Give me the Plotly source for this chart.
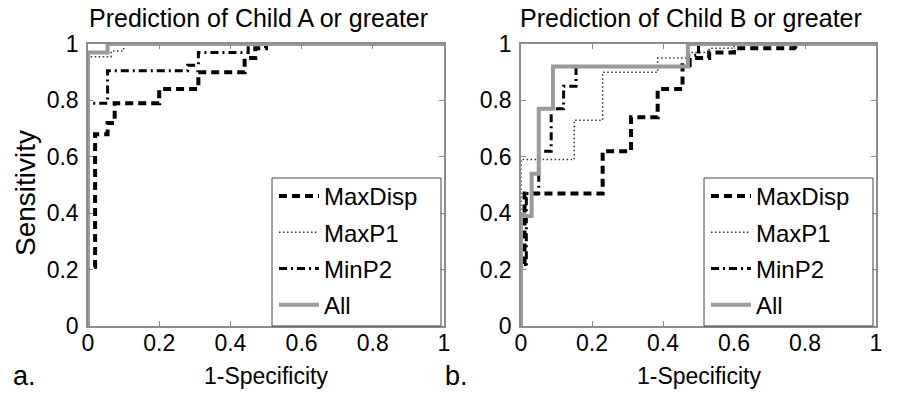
import plotly.graph_objects as go

# ---------------- data ----------------
tick_vals = [0, 0.2, 0.4, 0.6, 0.8, 1]
tick_text = ["0", "0.2", "0.4", "0.6", "0.8", "1"]
series_names = ["MaxDisp", "MaxP1", "MinP2", "All"]
titles = ["Prediction of Child A or greater", "Prediction of Child B or greater"]
panel_labels = ["a.", "b."]
x_title = "1-Specificity"
y_title = "Sensitivity"

# Panel a (Child A or greater)
a_maxdisp_fpr = [0, 0, 0.02, 0.02, 0.055, 0.055, 0.075, 0.075, 0.2, 0.2, 0.31, 0.31, 0.44, 0.44, 0.47, 0.47, 0.5, 0.5, 1]
a_maxdisp_tpr = [0, 0.21, 0.21, 0.68, 0.68, 0.72, 0.72, 0.79, 0.79, 0.84, 0.84, 0.9, 0.9, 0.95, 0.95, 0.985, 0.985, 1, 1]
a_maxp1_fpr = [0, 0, 0.065, 0.065, 0.1, 0.1, 1]
a_maxp1_tpr = [0, 0.955, 0.955, 0.975, 0.975, 1, 1]
a_minp2_fpr = [0, 0, 0.055, 0.055, 0.28, 0.28, 0.31, 0.31, 0.45, 0.45, 1]
a_minp2_tpr = [0, 0.79, 0.79, 0.905, 0.905, 0.925, 0.925, 0.97, 0.97, 1, 1]
a_all_fpr = [0, 0, 0.055, 0.055, 1]
a_all_tpr = [0, 0.97, 0.97, 1, 1]

# Panel b (Child B or greater)
b_maxdisp_fpr = [0, 0, 0.01, 0.01, 0.23, 0.23, 0.31, 0.31, 0.385, 0.385, 0.455, 0.455, 0.475, 0.475, 0.53, 0.53, 0.6, 0.6, 0.77, 0.78, 1]
b_maxdisp_tpr = [0, 0.22, 0.22, 0.47, 0.47, 0.62, 0.62, 0.74, 0.74, 0.84, 0.84, 0.925, 0.925, 0.95, 0.95, 0.97, 0.97, 0.985, 0.985, 1, 1]
b_maxp1_fpr = [0, 0, 0.15, 0.15, 0.23, 0.23, 0.385, 0.385, 0.47, 0.47, 0.53, 0.53, 0.6, 0.6, 1]
b_maxp1_tpr = [0, 0.59, 0.59, 0.73, 0.73, 0.9, 0.9, 0.95, 0.95, 0.97, 0.97, 0.985, 0.985, 1, 1]
b_minp2_fpr = [0, 0, 0.015, 0.015, 0.05, 0.05, 0.085, 0.085, 0.12, 0.12, 0.155, 0.155, 0.47, 0.47, 0.5, 0.5, 1]
b_minp2_tpr = [0, 0.22, 0.22, 0.47, 0.47, 0.62, 0.62, 0.77, 0.77, 0.85, 0.85, 0.92, 0.92, 0.96, 0.96, 1, 1]
b_all_fpr = [0, 0, 0.03, 0.03, 0.05, 0.05, 0.09, 0.09, 0.47, 0.47, 1]
b_all_tpr = [0, 0.39, 0.39, 0.54, 0.54, 0.77, 0.77, 0.92, 0.92, 1, 1]

panels = [
    {"MaxDisp": (a_maxdisp_fpr, a_maxdisp_tpr), "MaxP1": (a_maxp1_fpr, a_maxp1_tpr),
     "MinP2": (a_minp2_fpr, a_minp2_tpr), "All": (a_all_fpr, a_all_tpr)},
    {"MaxDisp": (b_maxdisp_fpr, b_maxdisp_tpr), "MaxP1": (b_maxp1_fpr, b_maxp1_tpr),
     "MinP2": (b_minp2_fpr, b_minp2_tpr), "All": (b_all_fpr, b_all_tpr)},
]

# ---------------- style ----------------
W, H = 897, 397
FONT = "Liberation Sans, Arial, sans-serif"
styles = {
    "MaxDisp": dict(color="black", width=4, dash="8px,5px"),
    "MaxP1": dict(color="#333333", width=1.5, dash="1.5px,2.5px"),
    "MinP2": dict(color="black", width=3, dash="8px,4px,2px,4px"),
    "All": dict(color="#9a9a9a", width=4),
}
# pixel boxes of the two axes (left, right), shared top/bottom
ax_px = [(88, 444), (521, 876)]
top_px, bot_px = 44, 326
leg_w, leg_top = 169, 178  # legend box width and top (px)

fig = go.Figure()
for i, panel in enumerate(panels):
    xa = "x" if i == 0 else "x2"
    ya = "y" if i == 0 else "y2"
    lg = "legend" if i == 0 else "legend2"
    for rank, name in enumerate(series_names):
        fx, ty = panel[name]
        fig.add_trace(go.Scatter(
            x=fx, y=ty, mode="lines", name=name, line=styles[name],
            xaxis=xa, yaxis=ya, legend=lg, legendgroup=f"{name}{i}", legendrank=rank + 1,
        ))

ydom = [(H - bot_px) / H, (H - top_px) / H]
axis_common = dict(
    range=[0, 1], tickvals=tick_vals, ticktext=tick_text, showgrid=False, zeroline=False,
    showline=True, linecolor="#8c8c8c", linewidth=1.5, mirror="ticks", ticks="inside",
    ticklen=5, tickcolor="#8c8c8c", tickwidth=1, automargin=False,
    tickfont=dict(family=FONT, size=23, color="black"),
)
layout = dict(
    width=W, height=H, margin=dict(l=0, r=0, t=0, b=0, pad=0, autoexpand=False),
    paper_bgcolor="white", plot_bgcolor="white",
    font=dict(family=FONT, color="black"),
    showlegend=True,
)
shapes = []
for i, (l, r) in enumerate(ax_px):
    sfx = "" if i == 0 else "2"
    layout["xaxis" + sfx] = dict(axis_common, domain=[l / W, r / W], anchor="y" + sfx, ticklabelstandoff=-4)
    layout["yaxis" + sfx] = dict(axis_common, domain=ydom, anchor="x" + sfx, ticklabelstandoff=3)
    box_l = r - 3 - leg_w
    layout["legend" + ("" if i == 0 else "2")] = dict(
        x=(box_l + 2) / W, xanchor="left", y=(H - leg_top + 4) / H, yanchor="top",
        bgcolor="rgba(0,0,0,0)", borderwidth=0,
        font=dict(family=FONT, size=24, color="black"),
        itemwidth=40, tracegroupgap=2, traceorder="grouped",
    )
    shapes.append(dict(type="rect", xref="paper", yref="paper",
                       x0=box_l / W, x1=(r - 3) / W, y0=(H - bot_px) / H, y1=(H - leg_top) / H,
                       line=dict(color="#444444", width=1), fillcolor="white", layer="above"))
layout["shapes"] = shapes
fig.update_layout(**layout)

ann = []
for i, (l, r) in enumerate(ax_px):
    cx = (l + r) / 2 / W
    ann.append(dict(text=titles[i], x=(l + r - 16) / 2 / W, y=(H - 18) / H, xref="paper", yref="paper",
                    showarrow=False, font=dict(family=FONT, size=25), xanchor="center", yanchor="middle"))
    ann.append(dict(text=x_title, x=cx, y=(H - 376) / H, xref="paper", yref="paper",
                    showarrow=False, font=dict(family=FONT, size=23), xanchor="center", yanchor="middle"))
    ann.append(dict(text=panel_labels[i], x=(l - 64) / W, y=(H - 376) / H, xref="paper", yref="paper",
                    showarrow=False, font=dict(family=FONT, size=27), xanchor="center", yanchor="middle"))
ann.append(dict(text=y_title, x=25 / W, y=(H - 193) / H, xref="paper", yref="paper", textangle=-90,
                showarrow=False, font=dict(family=FONT, size=28), xanchor="center", yanchor="middle"))
fig.update_layout(annotations=ann)

fig.write_html("out.html", config={"displayModeBar": False},
               post_script="document.body.style.margin='0px';")
